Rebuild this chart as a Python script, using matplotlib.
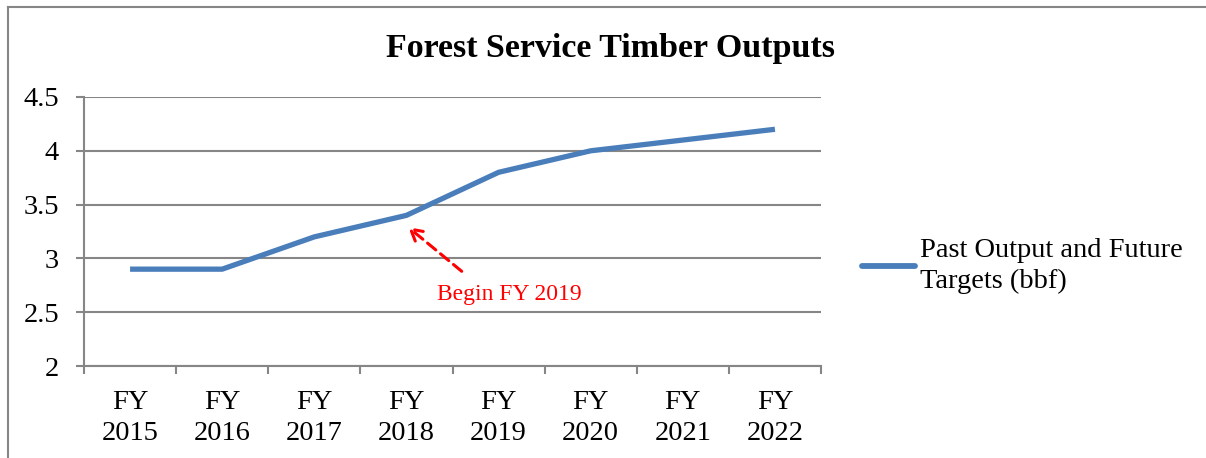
import matplotlib
matplotlib.use("Agg")
import matplotlib.pyplot as plt
from matplotlib.lines import Line2D

categories = ["FY\n2015", "FY\n2016", "FY\n2017", "FY\n2018", "FY\n2019", "FY\n2020", "FY\n2021", "FY\n2022"]
values = [2.9, 2.9, 3.2, 3.4, 3.8, 4.0, 4.1, 4.2]
yticks = [2, 2.5, 3, 3.5, 4, 4.5]
ytick_labels = ["2", "2.5", "3", "3.5", "4", "4.5"]
series_label = "Past Output and Future\nTargets (bbf)"
title = "Forest Service Timber Outputs"
annotation_text = "Begin FY 2019"

FONT = "Liberation Serif"
GRAY = "#868686"
BLUE = "#4A7EBB"

fig = plt.figure(figsize=(12.06, 4.58), dpi=100)
ax = fig.add_axes([84/1206, 1-366/458, (821-84)/1206, (366-97)/458])

x = list(range(len(values)))
ax.plot(x, values, color=BLUE, lw=3.8, solid_capstyle="butt", solid_joinstyle="round", zorder=3)

ax.set_xlim(-0.5, len(values) - 0.5)
ax.set_ylim(2, 4.5)
ax.set_yticks(yticks)
ax.set_yticklabels(ytick_labels, fontfamily=FONT, fontsize=20.5)
ax.set_xticks([i - 0.5 for i in range(len(values) + 1)])
ax.set_xticklabels([])
ax.set_xticks(x, minor=True)
ax.set_xticklabels(categories, minor=True, fontfamily=FONT, fontsize=20.5, linespacing=1.32)
ax.tick_params(axis="x", which="major", length=6, width=1.5, color=GRAY, direction="out")
ax.tick_params(axis="x", which="minor", length=0, pad=17)
ax.tick_params(axis="y", length=6, width=1.5, color=GRAY, pad=12)

ax.grid(axis="y", color=GRAY, lw=1.5)
ax.set_axisbelow(True)
for s in ["top", "right"]:
    ax.spines[s].set_visible(False)
for s in ["left", "bottom"]:
    ax.spines[s].set_color(GRAY)
    ax.spines[s].set_linewidth(1.5)

fig.text(610/1206, 1-48/458, title, ha="center", va="center",
         fontfamily=FONT, fontweight="bold", fontsize=24.5)

ax.annotate("", xy=(3.02, 3.29), xytext=(3.6, 2.88),
            arrowprops=dict(arrowstyle="->,head_length=0.8,head_width=0.45", color="red",
                            lw=2.2, linestyle=(0, (3.5, 2)), shrinkA=0, shrinkB=0))
ax.text(4.12, 2.66, annotation_text, ha="center", va="center", color="red",
        fontfamily=FONT, fontsize=17)

handle = Line2D([0], [0], color=BLUE, lw=4.2, solid_capstyle="round")
leg = fig.legend([handle], [series_label], loc="center left",
                 bbox_to_anchor=(862/1206, 1-266/458), frameon=False, borderpad=0, borderaxespad=0,
                 prop={"family": FONT, "size": 20.5}, handlelength=1.86, handletextpad=0.18,
                 labelspacing=0.2)
for t in leg.get_texts():
    t.set_linespacing(1.32)

# outer border (top and left)
fig.add_artist(Line2D([8/1206, 8/1206], [0, 1-7/458], color=GRAY, lw=1.5, transform=fig.transFigure))
fig.add_artist(Line2D([8/1206, 1205/1206], [1-7/458, 1-7/458], color=GRAY, lw=1.5, transform=fig.transFigure))

fig.savefig("out.png", dpi=100)
